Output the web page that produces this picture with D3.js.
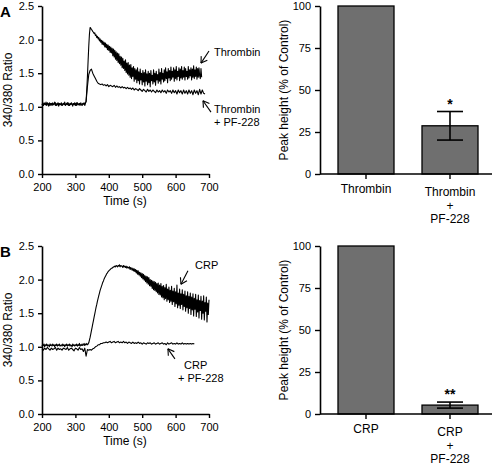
<!DOCTYPE html>
<html><head><meta charset="utf-8">
<script src="https://cdn.jsdelivr.net/npm/d3@7/dist/d3.min.js"></script>
<style>
body{margin:0;background:#fff;}
text{font-family:"Liberation Sans",Arial,sans-serif;fill:#000;}
</style></head>
<body><svg id="c" width="492" height="466"></svg>
<script>
// ---- data ----
const timeTicks = [200,300,400,500,600,700];
const ratioTicks = [0,0.5,1.0,1.5,2.0,2.5];
const peakTicks = [0,25,50,75,100];
const traceStart = 200;   // s
const fineStep = 2;       // s between samples (agonist traces)
const coarseStep = 4;     // s between samples (PF-228 traces)

const thrombin = [
1.03,1.05,1.02,1.06,1.04,1.03,1.07,1.02,1.05,1.04,
1.01,1.06,1.03,1.05,1.04,1.02,1.06,1.03,1.04,1.07,
1.02,1.05,1.03,1.04,1.06,1.01,1.05,1.04,1.03,1.06,
1.02,1.04,1.05,1.03,1.07,1.02,1.04,1.05,1.03,1.06,
1.04,1.02,1.05,1.03,1.06,1.04,1.01,1.05,1.04,1.06,
1.03,1.05,1.02,1.06,1.04,1.03,1.05,1.02,1.06,1.04,
1.03,1.05,1.04,1.06,1.02,1.05,
1.08,1.25,1.45,1.68,1.90,2.08,2.18,2.17,2.15,2.14,
2.12,2.11,2.09,2.10,2.06,2.07,2.03,2.05,2.01,2.03,
1.98,2.01,1.96,1.99,1.93,1.98,1.92,1.96,1.89,1.95,
1.88,1.93,1.85,1.92,1.84,1.90,1.81,1.89,1.80,1.87,
1.76,1.86,1.74,1.84,1.71,1.82,1.69,1.80,1.66,1.79,
1.64,1.75,1.62,1.74,1.58,1.72,1.57,1.68,1.54,1.70,
1.51,1.65,1.49,1.66,1.47,1.62,1.44,1.63,1.42,1.58,
1.45,1.60,1.38,1.57,1.41,1.55,1.36,1.58,1.39,1.52,
1.34,1.56,1.40,1.50,1.33,1.54,1.37,1.51,1.31,1.55,
1.38,1.49,1.33,1.53,1.36,1.50,1.30,1.54,1.39,1.47,
1.34,1.55,1.37,1.50,1.32,1.53,1.40,1.48,1.35,1.56,
1.38,1.51,1.34,1.57,1.41,1.50,1.37,1.55,1.39,1.58,
1.42,1.52,1.36,1.57,1.43,1.54,1.39,1.59,1.41,1.53,
1.44,1.58,1.38,1.55,1.42,1.60,1.40,1.53,1.45,1.58,
1.39,1.56,1.43,1.60,1.41,1.54,1.44,1.59,1.40,1.57,
1.45,1.53,1.41,1.60,1.43,1.55,1.46,1.58,1.40,1.56,
1.44,1.61,1.42,1.55,1.45,1.59,1.41,1.57,1.44,1.58,
1.46,1.42,1.57,1.44];
const thrombinPF = [1.04,1.02,1.05,1.03,1.06,1.04,1.02,1.05,1.03,1.04,1.06,1.02,1.05,1.03,1.04,1.02,1.05,1.04,1.03,1.06,1.02,1.04,1.05,1.03,1.04,1.02,1.06,1.03,1.05,1.04,1.02,1.05,1.04,
 1.08,1.30,1.48,1.54,1.56,1.50,1.46,1.42,1.38,1.35,1.34,1.33,1.34,1.32,1.33,1.31,1.33,1.30,1.32,1.31,1.30,1.32,1.29,1.31,1.29,1.30,1.28,1.30,1.28,1.29,1.27,1.29,1.27,1.28,1.26,1.28,1.25,1.27,1.26,1.24,1.27,1.25,1.23,1.26,1.24,1.22,1.26,1.23,1.25,1.22,1.25,1.23,1.21,1.25,1.22,1.24,1.21,1.25,1.22,1.24,1.20,1.25,1.22,1.24,1.20,1.25,1.21,1.24,1.19,1.25,1.21,1.24,1.19,1.25,1.20,1.24,1.19,1.25,1.20,1.24,1.18,1.25,1.20,1.24,1.18,1.26,1.19,1.25,1.20,1.19];
const crp = [
1.01,1.03,1.02,1.04,1.00,1.03,1.02,1.04,1.01,1.03,
1.02,1.00,1.04,1.02,1.03,1.01,1.04,1.02,1.03,1.00,
1.03,1.02,1.04,1.01,1.03,1.02,1.04,1.01,1.02,1.03,
1.01,1.04,1.02,1.03,1.00,1.03,1.02,1.04,1.01,1.03,
1.02,1.04,1.01,1.03,1.02,1.00,1.04,1.02,1.03,1.01,
1.03,1.02,1.04,1.01,1.03,1.02,1.05,1.01,1.03,1.02,
1.04,1.02,1.03,1.05,1.02,1.04,1.03,1.05,1.03,1.04,
1.06,1.10,1.14,1.19,1.24,1.29,1.34,1.39,1.44,1.49,
1.54,1.59,1.63,1.68,1.72,1.76,1.80,1.84,1.87,1.90,
1.93,1.96,1.98,2.01,2.03,2.05,2.07,2.09,2.10,2.12,
2.13,2.14,2.15,2.16,2.17,2.17,2.18,2.19,2.19,2.20,
2.19,2.21,2.20,2.19,2.21,2.20,2.22,2.19,2.21,2.20,
2.20,2.18,2.21,2.19,2.20,2.18,2.20,2.17,2.19,2.18,
2.17,2.19,2.15,2.18,2.16,2.14,2.17,2.13,2.16,2.12,
2.15,2.10,2.14,2.08,2.13,2.07,2.11,2.05,2.10,2.03,
2.09,2.01,2.08,1.99,2.06,1.97,2.05,1.95,2.04,1.93,
2.03,1.91,2.00,1.90,1.99,1.87,1.98,1.85,1.97,1.84,
1.96,1.82,1.94,1.80,1.95,1.78,1.92,1.77,1.94,1.74,
1.90,1.73,1.91,1.70,1.88,1.72,1.93,1.68,1.86,1.70,
1.89,1.66,1.84,1.68,1.90,1.63,1.83,1.67,1.87,1.60,
1.82,1.64,1.92,1.58,1.80,1.62,1.86,1.57,1.79,1.63,
1.85,1.55,1.78,1.60,1.83,1.53,1.76,1.58,1.82,1.50,
1.75,1.57,1.80,1.48,1.74,1.55,1.79,1.46,1.72,1.56,
1.78,1.45,1.70,1.52,1.77,1.43,1.69,1.54,1.75,1.41,
1.68,1.50,1.76,1.40,1.66,1.53,1.74,1.37,1.65,1.48,
1.70];
const crpPF = [0.97,0.95,0.98,0.96,0.99,0.97,0.95,0.98,0.96,0.97,0.99,0.95,0.98,0.96,0.97,0.95,0.98,0.97,0.96,0.99,0.95,0.97,0.98,0.96,0.94,0.98,0.97,0.95,0.99,0.96,0.97,0.93,0.98,0.86,0.96,
 0.95,0.96,0.95,0.97,0.98,1.00,1.01,1.03,1.03,1.05,1.05,1.06,1.06,1.07,1.06,1.07,1.08,1.06,1.07,1.08,1.06,1.07,1.08,1.06,1.07,1.06,1.08,1.06,1.07,1.05,1.07,1.06,1.05,1.07,1.05,1.06,1.05,1.07,1.05,1.06,1.04,1.06,1.05,1.04,1.06,1.05,1.06,1.04,1.05,1.06,1.04,1.05,1.06,1.04,1.05,1.06,1.04,1.05,1.03,1.06,1.04,1.05,1.06,1.04,1.05,1.04,1.06,1.04,1.05,1.04,1.06,1.04,1.05,1.04,1.05,1.04,1.05,1.04,1.05,1.04];

const catsA = ["Thrombin","Thrombin + PF-228"];
const peakA = [100, 28.7];
const errA = [0, 8.5];
const sigA = ["", "*"];
const catsB = ["CRP","CRP + PF-228"];
const peakB = [100, 5.3];
const errB = [0, 1.8];
const sigB = ["", "**"];

// ---- drawing ----
const svg = d3.select("#c");
const FS = 11;   // tick labels and annotations
const TS = 12;   // axis titles, category labels

function linePanel(top, traces, annots, letter){
  const x = d3.scaleLinear().domain([200,700]).range([42,209]);
  const y = d3.scaleLinear().domain([0,2.5]).range([top+168, top]);
  const g = svg.append("g");
  const ax = g.append("g").attr("transform",`translate(0,${top+168})`)
    .call(d3.axisBottom(x).tickValues(timeTicks).tickSize(4).tickSizeOuter(0).tickFormat(d3.format("d")));
  const ay = g.append("g").attr("transform",`translate(42,0)`)
    .call(d3.axisLeft(y).tickValues(ratioTicks).tickSize(4).tickSizeOuter(0).tickFormat(d3.format(".1f")));
  [ax,ay].forEach(a=>{
    a.select(".domain").attr("stroke-width",1.6);
    a.selectAll(".tick line").attr("stroke-width",1.4);
    a.selectAll("text").attr("font-size",FS).attr("font-family","Liberation Sans, Arial, sans-serif");
  });
  ax.selectAll("text").attr("dy","0.95em");
  ay.selectAll("text").attr("dx","-1");
  g.append("text").attr("x",125).attr("y",top+199).attr("text-anchor","middle").attr("font-size",TS).text("Time (s)");
  g.append("text").attr("transform",`translate(12,${top+84}) rotate(-90)`).attr("text-anchor","middle").attr("font-size",TS).text("340/380 Ratio");
  g.append("text").attr("x",0).attr("y",top+11).attr("font-size",15).attr("font-weight","bold").text(letter);
  traces.forEach(tr=>{
    const line = d3.line().x((d,i)=>x(traceStart+i*tr.step)).y(d=>y(d));
    g.append("path").datum(tr.values).attr("d",line).attr("fill","none").attr("stroke","#000").attr("stroke-width",1.1).attr("stroke-linejoin","round");
  });
  annots.forEach(a=>{
    const hx=x(a.head[0]), hy=y(a.head[1]), tx=x(a.tail[0]), ty=y(a.tail[1]);
    const ang=Math.atan2(ty-hy, tx-hx);
    g.append("line").attr("x1",tx).attr("y1",ty).attr("x2",hx).attr("y2",hy).attr("stroke","#000").attr("stroke-width",1.1);
    [-0.55,0.55].forEach(da=>{
      g.append("line").attr("x1",hx).attr("y1",hy)
        .attr("x2",hx+7*Math.cos(ang+da)).attr("y2",hy+7*Math.sin(ang+da))
        .attr("stroke","#000").attr("stroke-width",1.1);
    });
    a.lines.forEach((t,i)=>{
      g.append("text").attr("x",a.tx[i]).attr("y",top+a.ty+i*13).attr("font-size",FS).attr("dy","0.35em").text(t);
    });
  });
}

function barPanel(top, cats, vals, errs, sigs){
  const x = d3.scaleBand().domain(cats).range([324,492]).paddingInner(1/3).paddingOuter(1/6);
  const y = d3.scaleLinear().domain([0,100]).range([top+168, top]);
  const g = svg.append("g");
  g.selectAll("rect.bar").data(cats).enter().append("rect")
    .attr("x",d=>x(d)).attr("width",x.bandwidth())
    .attr("y",(d,i)=>y(vals[i])).attr("height",(d,i)=>y(0)-y(vals[i]))
    .attr("fill","#6f6f6f").attr("stroke","#000").attr("stroke-width",1.3);
  cats.forEach((c,i)=>{
    if(!errs[i]) return;
    const cx = x(c)+x.bandwidth()/2;
    const y1=y(vals[i]+errs[i]), y2=y(vals[i]-errs[i]);
    g.append("line").attr("x1",cx).attr("x2",cx).attr("y1",y1).attr("y2",y2).attr("stroke","#000").attr("stroke-width",1.6);
    [y1,y2].forEach(yy=>g.append("line").attr("x1",cx-13).attr("x2",cx+13).attr("y1",yy).attr("y2",yy).attr("stroke","#000").attr("stroke-width",1.6));
    g.append("text").attr("x",cx).attr("y",y1-3).attr("text-anchor","middle").attr("font-size",14).attr("font-weight","bold").text(sigs[i]);
  });
  const ay = g.append("g").attr("transform",`translate(320,0)`)
    .call(d3.axisLeft(y).tickValues(peakTicks).tickSize(5).tickSizeOuter(0));
  ay.select(".domain").attr("stroke-width",1.6);
  ay.selectAll(".tick line").attr("stroke-width",1.4);
  ay.selectAll("text").attr("font-size",FS).attr("font-family","Liberation Sans, Arial, sans-serif").attr("dx","-1");
  g.append("line").attr("x1",320).attr("x2",492).attr("y1",y(0)).attr("y2",y(0)).attr("stroke","#000").attr("stroke-width",1.6);
  cats.forEach(c=>{
    const cx = x(c)+x.bandwidth()/2;
    g.append("line").attr("x1",cx).attr("x2",cx).attr("y1",y(0)).attr("y2",y(0)+5).attr("stroke","#000").attr("stroke-width",1.4);
    const parts = c.includes(" + ") ? [c.split(" + ")[0],"+",c.split(" + ")[1]] : [c];
    const y0 = parts.length>1 ? y(0)+18 : y(0)+15;
    parts.forEach((p,j)=>g.append("text").attr("x",cx).attr("y",y0+j*13.3).attr("text-anchor","middle").attr("font-size",TS).attr("dy","0.35em").text(p));
  });
  g.append("text").attr("transform",`translate(288,${top+84}) rotate(-90)`).attr("text-anchor","middle").attr("font-size",TS).text("Peak height (% of Control)");
}

linePanel(6, [{values:thrombin, step:fineStep}, {values:thrombinPF, step:coarseStep}], [
  {head:[676,1.65], tail:[700,1.83], tx:[214], ty:46, lines:["Thrombin"]},
  {head:[682,1.09], tail:[706,0.92], tx:[214,214], ty:103, lines:["Thrombin","+ PF-228"]}
], "A");
barPanel(6, catsA, peakA, errA, sigA);

linePanel(246, [{values:crp, step:fineStep}, {values:crpPF, step:coarseStep}], [
  {head:[616,1.93], tail:[637,2.13], tx:[195], ty:19, lines:["CRP"]},
  {head:[577,0.97], tail:[598,0.82], tx:[184,178], ty:119, lines:["CRP","+ PF-228"]}
], "B");
barPanel(246, catsB, peakB, errB, sigB);
</script></body></html>
